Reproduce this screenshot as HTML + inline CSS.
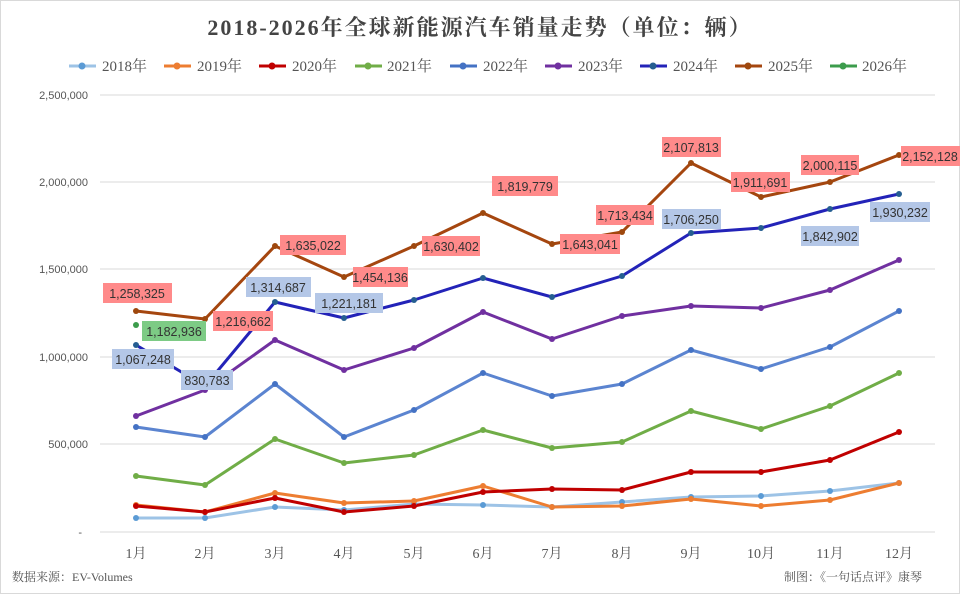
<!DOCTYPE html><html><head><meta charset="utf-8"><style>
body{margin:0;background:#fff}
svg{display:block;font-family:"Liberation Serif","Noto Serif CJK SC",serif}
.l{fill:none;stroke-width:3;stroke-linejoin:round}
.y{font-family:"Liberation Sans",sans-serif;font-size:11px;fill:#555;text-anchor:end}
.x{font-size:14px;fill:#555;text-anchor:middle}
.lg{font-size:15px;fill:#555}
.d{font-family:"Liberation Sans",sans-serif;font-size:12.5px;fill:#333;text-anchor:middle}
</style></head><body>
<svg width="960" height="594" viewBox="0 0 960 594">
<rect x="0.5" y="0.5" width="959" height="593" fill="#fff" stroke="#d9d9d9"/>
<text x="480" y="35" text-anchor="middle" font-size="22" font-weight="bold" fill="#444" letter-spacing="2">2018-2026年全球新能源汽车销量走势（单位：辆）</text>
<g stroke="#d9d9d9" stroke-width="1">
<line x1="100" y1="95" x2="935" y2="95"/><line x1="100" y1="182" x2="935" y2="182"/><line x1="100" y1="269" x2="935" y2="269"/><line x1="100" y1="357" x2="935" y2="357"/><line x1="100" y1="444" x2="935" y2="444"/><line x1="100" y1="532" x2="935" y2="532"/>
</g>
<text class="y" x="88" y="99">2,500,000</text><text class="y" x="88" y="186">2,000,000</text><text class="y" x="88" y="273">1,500,000</text><text class="y" x="88" y="361">1,000,000</text><text class="y" x="88" y="448">500,000</text><text class="y" x="82" y="536">-</text>
<g class="x">
<text x="136" y="558">1月</text><text x="205" y="558">2月</text><text x="275" y="558">3月</text><text x="344" y="558">4月</text><text x="414" y="558">5月</text><text x="483" y="558">6月</text><text x="552" y="558">7月</text><text x="622" y="558">8月</text><text x="691" y="558">9月</text><text x="761" y="558">10月</text><text x="830" y="558">11月</text><text x="899" y="558">12月</text>
</g>
<text x="12" y="581" font-size="12" fill="#555">数据来源：EV-Volumes</text>
<text x="922" y="581" font-size="12" fill="#555" text-anchor="end">制图：《一句话点评》康琴</text>
<g stroke-width="3">
<line x1="69" y1="66" x2="96" y2="66" stroke="#9dc3e6"/><line x1="164" y1="66" x2="191" y2="66" stroke="#ed7d31"/><line x1="259" y1="66" x2="286" y2="66" stroke="#c00000"/><line x1="355" y1="66" x2="382" y2="66" stroke="#70ad47"/><line x1="450" y1="66" x2="477" y2="66" stroke="#4472c4"/><line x1="545" y1="66" x2="572" y2="66" stroke="#7030a0"/><line x1="640" y1="66" x2="667" y2="66" stroke="#2323b8"/><line x1="735" y1="66" x2="762" y2="66" stroke="#a5460f"/><line x1="830" y1="66" x2="857" y2="66" stroke="#3c9c4c"/>
</g>
<g><circle cx="82" cy="66" r="3.5" fill="#5b9bd5"/><circle cx="177" cy="66" r="3.5" fill="#ed7d31"/><circle cx="272" cy="66" r="3.5" fill="#c00000"/><circle cx="368" cy="66" r="3.5" fill="#70ad47"/><circle cx="463" cy="66" r="3.5" fill="#4472c4"/><circle cx="558" cy="66" r="3.5" fill="#7030a0"/><circle cx="653" cy="66" r="3.5" fill="#255e91"/><circle cx="748" cy="66" r="3.5" fill="#9e480e"/><circle cx="843" cy="66" r="3.5" fill="#3c9c4c"/></g>
<g class="lg"><text x="102" y="71">2018年</text><text x="197" y="71">2019年</text><text x="292" y="71">2020年</text><text x="387" y="71">2021年</text><text x="483" y="71">2022年</text><text x="578" y="71">2023年</text><text x="673" y="71">2024年</text><text x="768" y="71">2025年</text><text x="862" y="71">2026年</text></g>
<polyline class="l" stroke="#9dc3e6" points="136,518 205,518 275,507 344,510 414,504 483,505 552,507 622,502 691,497 761,496 830,491 899,483"/>
<polyline class="l" stroke="#ed7d31" points="136,505 205,512 275,493 344,503 414,501 483,486 552,507 622,506 691,499 761,506 830,500 899,483"/>
<polyline class="l" stroke="#c00000" points="136,506 205,512 275,498 344,512 414,506 483,492 552,489 622,490 691,472 761,472 830,460 899,432"/>
<polyline class="l" stroke="#70ad47" points="136,476 205,485 275,439 344,463 414,455 483,430 552,448 622,442 691,411 761,429 830,406 899,373"/>
<polyline class="l" stroke="#5b84d0" points="136,427 205,437 275,384 344,437 414,410 483,373 552,396 622,384 691,350 761,369 830,347 899,311"/>
<polyline class="l" stroke="#7030a0" points="136,416 205,390 275,340 344,370 414,348 483,312 552,339 622,316 691,306 761,308 830,290 899,260"/>
<polyline class="l" stroke="#2323b8" points="136,345 205,386 275,302 344,318 414,300 483,278 552,297 622,276 691,233 761,228 830,209 899,194"/>
<polyline class="l" stroke="#a5460f" points="136,311 205,319 275,246 344,277 414,246 483,213 552,244 622,232 691,163 761,197 830,182 899,155"/>
<g fill="#5b9bd5"><circle cx="136" cy="518" r="3"/><circle cx="205" cy="518" r="3"/><circle cx="275" cy="507" r="3"/><circle cx="344" cy="510" r="3"/><circle cx="414" cy="504" r="3"/><circle cx="483" cy="505" r="3"/><circle cx="552" cy="507" r="3"/><circle cx="622" cy="502" r="3"/><circle cx="691" cy="497" r="3"/><circle cx="761" cy="496" r="3"/><circle cx="830" cy="491" r="3"/><circle cx="899" cy="483" r="3"/></g>
<g fill="#ed7d31"><circle cx="136" cy="505" r="3"/><circle cx="205" cy="512" r="3"/><circle cx="275" cy="493" r="3"/><circle cx="344" cy="503" r="3"/><circle cx="414" cy="501" r="3"/><circle cx="483" cy="486" r="3"/><circle cx="552" cy="507" r="3"/><circle cx="622" cy="506" r="3"/><circle cx="691" cy="499" r="3"/><circle cx="761" cy="506" r="3"/><circle cx="830" cy="500" r="3"/><circle cx="899" cy="483" r="3"/></g>
<g fill="#c00000"><circle cx="136" cy="506" r="3"/><circle cx="205" cy="512" r="3"/><circle cx="275" cy="498" r="3"/><circle cx="344" cy="512" r="3"/><circle cx="414" cy="506" r="3"/><circle cx="483" cy="492" r="3"/><circle cx="552" cy="489" r="3"/><circle cx="622" cy="490" r="3"/><circle cx="691" cy="472" r="3"/><circle cx="761" cy="472" r="3"/><circle cx="830" cy="460" r="3"/><circle cx="899" cy="432" r="3"/></g>
<g fill="#70ad47"><circle cx="136" cy="476" r="3"/><circle cx="205" cy="485" r="3"/><circle cx="275" cy="439" r="3"/><circle cx="344" cy="463" r="3"/><circle cx="414" cy="455" r="3"/><circle cx="483" cy="430" r="3"/><circle cx="552" cy="448" r="3"/><circle cx="622" cy="442" r="3"/><circle cx="691" cy="411" r="3"/><circle cx="761" cy="429" r="3"/><circle cx="830" cy="406" r="3"/><circle cx="899" cy="373" r="3"/></g>
<g fill="#4472c4"><circle cx="136" cy="427" r="3"/><circle cx="205" cy="437" r="3"/><circle cx="275" cy="384" r="3"/><circle cx="344" cy="437" r="3"/><circle cx="414" cy="410" r="3"/><circle cx="483" cy="373" r="3"/><circle cx="552" cy="396" r="3"/><circle cx="622" cy="384" r="3"/><circle cx="691" cy="350" r="3"/><circle cx="761" cy="369" r="3"/><circle cx="830" cy="347" r="3"/><circle cx="899" cy="311" r="3"/></g>
<g fill="#7030a0"><circle cx="136" cy="416" r="3"/><circle cx="205" cy="390" r="3"/><circle cx="275" cy="340" r="3"/><circle cx="344" cy="370" r="3"/><circle cx="414" cy="348" r="3"/><circle cx="483" cy="312" r="3"/><circle cx="552" cy="339" r="3"/><circle cx="622" cy="316" r="3"/><circle cx="691" cy="306" r="3"/><circle cx="761" cy="308" r="3"/><circle cx="830" cy="290" r="3"/><circle cx="899" cy="260" r="3"/></g>
<g fill="#255e91"><circle cx="136" cy="345" r="3"/><circle cx="205" cy="386" r="3"/><circle cx="275" cy="302" r="3"/><circle cx="344" cy="318" r="3"/><circle cx="414" cy="300" r="3"/><circle cx="483" cy="278" r="3"/><circle cx="552" cy="297" r="3"/><circle cx="622" cy="276" r="3"/><circle cx="691" cy="233" r="3"/><circle cx="761" cy="228" r="3"/><circle cx="830" cy="209" r="3"/><circle cx="899" cy="194" r="3"/></g>
<g fill="#9e480e"><circle cx="136" cy="311" r="3"/><circle cx="205" cy="319" r="3"/><circle cx="275" cy="246" r="3"/><circle cx="344" cy="277" r="3"/><circle cx="414" cy="246" r="3"/><circle cx="483" cy="213" r="3"/><circle cx="552" cy="244" r="3"/><circle cx="622" cy="232" r="3"/><circle cx="691" cy="163" r="3"/><circle cx="761" cy="197" r="3"/><circle cx="830" cy="182" r="3"/><circle cx="899" cy="155" r="3"/></g>
<circle cx="136" cy="325" r="3" fill="#3c9c4c"/>
<g fill="#ff8a8a">
<rect x="103" y="283" width="69" height="20"/><rect x="213" y="311" width="60" height="20"/><rect x="280" y="235" width="66" height="20"/><rect x="353" y="267" width="55" height="20"/><rect x="422" y="236" width="58" height="20"/><rect x="492" y="176" width="66" height="20"/><rect x="560" y="234" width="60" height="20"/><rect x="596" y="205" width="58" height="20"/><rect x="662" y="137" width="59" height="20"/><rect x="731" y="172" width="59" height="20"/><rect x="801" y="155" width="58" height="20"/><rect x="901" y="146" width="59" height="20"/>
</g>
<g class="d">
<text x="137" y="298">1,258,325</text><text x="243" y="326">1,216,662</text><text x="313" y="250">1,635,022</text><text x="380" y="282">1,454,136</text><text x="451" y="251">1,630,402</text><text x="525" y="191">1,819,779</text><text x="590" y="249">1,643,041</text><text x="625" y="220">1,713,434</text><text x="691" y="152">2,107,813</text><text x="760" y="187">1,911,691</text><text x="830" y="170">2,000,115</text><text x="930" y="161">2,152,128</text>
</g>
<g fill="#b4c7e7">
<rect x="112" y="349" width="62" height="20"/><rect x="181" y="370" width="52" height="20"/><rect x="246" y="277" width="65" height="20"/><rect x="315" y="293" width="68" height="20"/><rect x="662" y="209" width="59" height="20"/><rect x="801" y="226" width="58" height="20"/><rect x="870" y="202" width="60" height="20"/>
</g>
<g class="d">
<text x="143" y="364">1,067,248</text><text x="207" y="385">830,783</text><text x="278" y="292">1,314,687</text><text x="349" y="308">1,221,181</text><text x="691" y="224">1,706,250</text><text x="830" y="241">1,842,902</text><text x="900" y="217">1,930,232</text>
</g>
<rect x="142" y="321" width="64" height="20" fill="#7dcb85"/>
<text class="d" x="174" y="336">1,182,936</text>
</svg>
</body></html>
